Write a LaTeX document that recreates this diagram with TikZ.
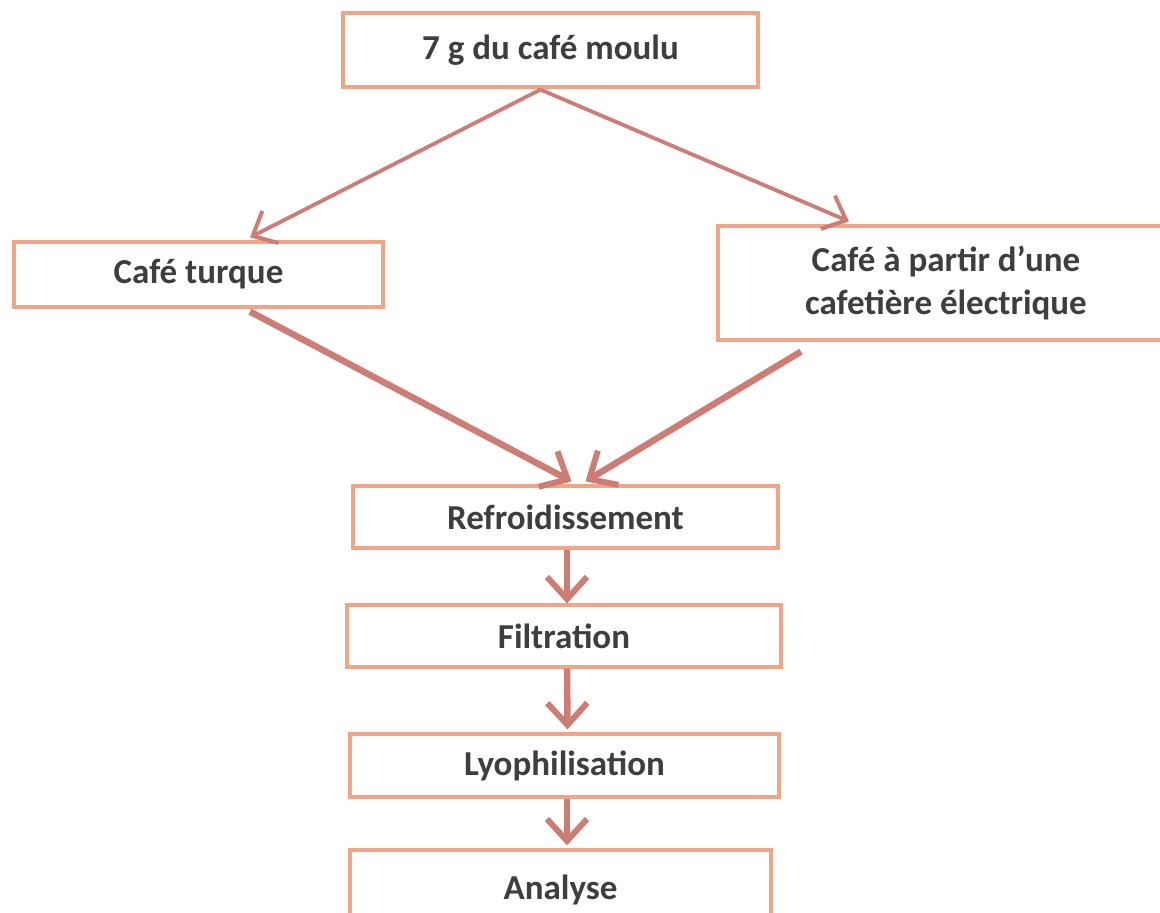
\documentclass[tikz,border=0pt]{standalone}
\usepackage{fontspec}
\setmainfont{Carlito}
\usetikzlibrary{arrows.meta}
\definecolor{boxc}{RGB}{242,165,132}
\definecolor{arrc}{RGB}{205,125,115}
\definecolor{txtc}{RGB}{62,62,62}
\tikzset{
  stepbox/.style={draw=boxc, line width=3.2pt, fill=white, rectangle, inner sep=0pt,
    text=txtc, font=\fontsize{35}{43}\selectfont\bfseries, align=center},
  thinarrow/.style={draw=arrc, line width=3.8pt, -{Straight Barb[length=20pt,width=36pt,line width=4pt]}},
  thickarrow/.style={draw=arrc, line width=6.5pt, -{Straight Barb[length=22pt,width=40pt,line width=6pt]}},
}
\begin{document}
\begin{tikzpicture}[x=1pt,y=-1pt]
\useasboundingbox (0,0) rectangle (1160,913);
\clip (0,0) rectangle (1160,913);
\node[stepbox, minimum width=415pt, minimum height=74pt] (top) at (550.5,50) {7 g du café moulu};
\node[stepbox, minimum width=369pt, minimum height=65pt] (turque) at (198.5,274.5) {Café turque};
\node[stepbox, minimum width=456pt, minimum height=114pt] (elec) at (946,283) {Café à partir d’une\\cafetière électrique};
\node[stepbox, minimum width=425pt, minimum height=62pt] (refr) at (565.5,517) {Refroidissement};
\node[stepbox, minimum width=434pt, minimum height=62pt] (filt) at (564,636) {Filtration};
\node[stepbox, minimum width=429pt, minimum height=63pt] (lyo) at (564.5,765.5) {Lyophilisation};
\node[stepbox, minimum width=421pt, minimum height=80pt] (ana) at (560.5,890) {Analyse};
\draw[thinarrow] ([xshift=-10pt,yshift=-1pt]top.south) -- ([xshift=51.5pt,yshift=3pt]turque.north);
\draw[thinarrow] ([xshift=-10pt,yshift=-1pt]top.south) -- ([xshift=-97pt,yshift=3pt]elec.north);
\draw[thickarrow] ([xshift=51.5pt,yshift=-3pt]turque.south) -- ([xshift=6pt,yshift=3pt]refr.north);
\draw[thickarrow] ([xshift=-145pt,yshift=-10pt]elec.south) -- ([xshift=20pt,yshift=3pt]refr.north);
\draw[thickarrow] ([xshift=1.5pt]refr.south) -- ([xshift=3pt]filt.north);
\draw[thickarrow] ([xshift=3pt]filt.south) -- ([xshift=3pt,yshift=3pt]lyo.north);
\draw[thickarrow] ([xshift=2.5pt]lyo.south) -- ([xshift=6.5pt,yshift=3pt]ana.north);
\end{tikzpicture}
\end{document}
